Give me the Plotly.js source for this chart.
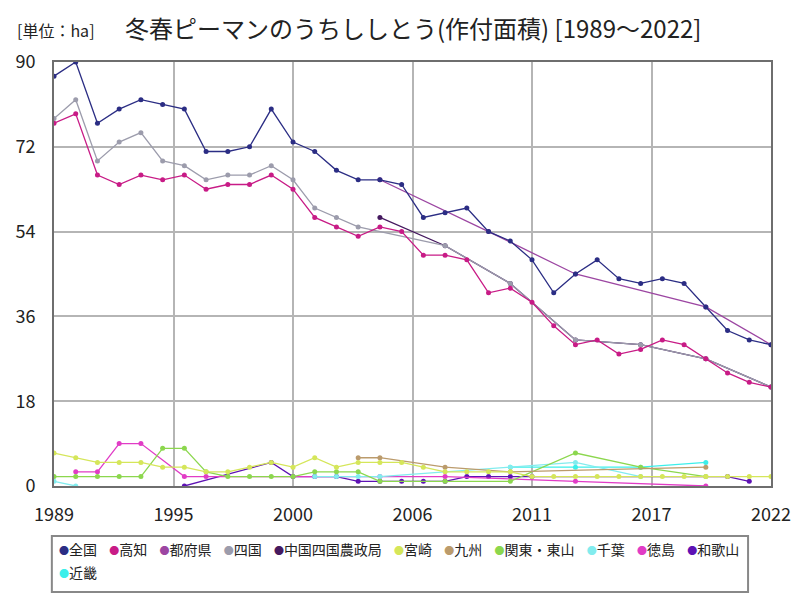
<!DOCTYPE html>
<html><head><meta charset="utf-8">
<script src="https://cdn.plot.ly/plotly-3.0.1.min.js"></script>
<style>body{margin:0;background:#fff}#c{width:800px;height:600px}</style>
</head><body><div id="c"></div>
<script>
// ---- data ----
const years = [1989,1990,1991,1992,1993,1994,1995,1996,1997,1998,1999,2000,2001,2002,2003,2004,2005,2006,2007,2008,2009,2010,2011,2012,2013,2014,2015,2016,2017,2018,2019,2020,2021,2022];

const zenkoku = [87,90,77,80,82,81,80,71,71,72,80,73,71,67,65,65,64,57,58,59,54,52,48,41,45,48,44,43,44,43,38,33,31,30];
const kochi   = [77,79,66,64,66,65,66,63,64,64,66,63,57,55,53,55,54,49,49,48,41,42,39,34,30,31,28,29,31,30,27,24,22,21];

const todofukenYears = [2004,2009,2013,2019,2022];
const todofuken      = [65,54,45,38,30];

const shikokuYears = [1989,1990,1991,1992,1993,1994,1995,1996,1997,1998,1999,2000,2001,2002,2003,2007,2010,2013,2016,2019,2022];
const shikoku      = [78,82,69,73,75,69,68,65,66,66,68,65,59,57,55,51,43,31,30,27,21];

const chushikokuYears = [2004,2007,2010,2013,2016,2019,2022];
const chushikoku      = [57,51,43,31,30,27,21];

const miyazaki = [7,6,5,5,5,4,4,3,3,4,5,4,6,4,5,5,5,4,3,3,3,3,2,2,2,2,2,2,2,2,2,2,2,2];

const kyushuYears = [2003,2004,2007,2010,2019];
const kyushu      = [6,6,4,3,4];

const kantoYears = [1989,1990,1991,1992,1993,1994,1995,1996,1997,1998,1999,2000,2001,2002,2003,2004,2007,2010,2013,2016,2019];
const kanto      = [2,2,2,2,2,8,8,3,2,2,2,2,3,3,3,1,1,1,7,4,2];

// null marks a break in the line
const chibaYears = [1989,1990,1995,2001,2002,2003,2004,2010,2013,2016];
const chiba      = [1,0,null,2,2,2,2,4,5,2];

const tokushimaYears = [1990,1991,1992,1993,1995,1996,2004,2007,2013,2019];
const tokushima      = [3,3,9,9,2,2,2,2,1,0];

const wakayamaYears = [1995,1999,2000,2001,2002,2003,2004,2005,2006,2007,2008,2009,2010,2011,2020,2021];
const wakayama      = [0,5,2,2,2,1,1,1,1,1,2,2,2,2,2,1];

const kinkiYears = [2010,2013,2016,2019];
const kinki      = [4,4,4,5];

const seriesNames  = ['全国','高知','都府県','四国','中国四国農政局','宮崎','九州','関東・東山','千葉','徳島','和歌山','近畿'];
const seriesColors = ['#2b2d84','#c81b86','#9c46a2','#9c9cac','#45195f','#d5e65a','#bb9b6c','#8cd74e','#82ecee','#e13cc6','#5e12b4','#3cefea'];

const tickVals   = [1989,1994.5,2000,2005.5,2011,2016.5,2022];
const tickLabels = ['1989','1995','2000','2006','2011','2017','2022'];
const yTicks     = [0,18,36,54,72,90];

// ---- traces ----
const xs = [years, years, todofukenYears, shikokuYears, chushikokuYears, years, kyushuYears, kantoYears, chibaYears, tokushimaYears, wakayamaYears, kinkiYears];
const ys = [zenkoku, kochi, todofuken, shikoku, chushikoku, miyazaki, kyushu, kanto, chiba, tokushima, wakayama, kinki];

const FONT = '"Noto Sans CJK JP", "Noto Sans", sans-serif';

// first series in the list is drawn on top, so add them in reverse order
const traces = seriesNames.map((n, i) => ({
  type: 'scatter', mode: 'lines+markers', name: n,
  x: xs[i], y: ys[i], connectgaps: false,
  line: {color: seriesColors[i], width: 1.3},
  marker: {color: seriesColors[i], size: 5},
  showlegend: false
})).reverse();

// legend built from the series arrays
function legendRow(idx) {
  return idx.map(i => '<span style="font-size:10px;color:' + seriesColors[i] + '">●</span>' + seriesNames[i]).join('\u00a0\u00a0\u00a0\u2009');
}

const layout = {
  width: 800, height: 600,
  paper_bgcolor: '#fff', plot_bgcolor: '#fff',
  margin: {l: 54, r: 29, t: 62, b: 114},
  font: {family: FONT, color: '#222'},
  title: {
    text: '冬春ピーマンのうちししとう(作付面積) [1989～2022]',
    font: {family: FONT, size: 24, color: '#222'},
    x: 125/800, xanchor: 'left', xref: 'container',
    y: 1 - 30/600, yanchor: 'middle', yref: 'container'
  },
  xaxis: {
    range: [1989, 2022], tickvals: tickVals, ticktext: tickLabels,
    showgrid: true, gridcolor: '#b5b5b5', gridwidth: 2,
    showline: true, mirror: true, linecolor: '#6e6e6e', linewidth: 2,
    zeroline: false, ticks: 'outside', ticklen: 11, tickcolor: 'rgba(0,0,0,0)',
    tickfont: {size: 18, family: FONT, color: '#222'}
  },
  yaxis: {
    range: [0, 90], tickvals: yTicks,
    showgrid: true, gridcolor: '#b5b5b5', gridwidth: 2,
    showline: true, mirror: true, linecolor: '#6e6e6e', linewidth: 2,
    zeroline: false, ticks: 'outside', ticklen: 13, tickcolor: 'rgba(0,0,0,0)',
    tickfont: {size: 18, family: FONT, color: '#222'}
  },
  annotations: [
    {text: '[単位：ha]', xref: 'paper', yref: 'paper', x: -0.054, y: 1.0755,
     xanchor: 'left', yanchor: 'middle', showarrow: false, font: {size: 16, family: FONT, color: '#222'}},
    {text: legendRow([0,1,2,3,4,5,6,7,8,9,10]), xref: 'paper', yref: 'paper', x: 0.004, y: -0.1486,
     xanchor: 'left', yanchor: 'middle', showarrow: false, font: {size: 14, family: FONT, color: '#222'}},
    {text: legendRow([11]), xref: 'paper', yref: 'paper', x: 0.004, y: -0.2028,
     xanchor: 'left', yanchor: 'middle', showarrow: false, font: {size: 14, family: FONT, color: '#222'}}
  ],
  shapes: [
    {type: 'rect', xref: 'paper', yref: 'paper', x0: -0.003, x1: 0.968, y0: -0.250, y1: -0.118,
     line: {color: '#888', width: 2}, fillcolor: 'rgba(0,0,0,0)'}
  ]
};

Plotly.newPlot('c', traces, layout, {displayModeBar: false, staticPlot: true});
</script>
</body></html>
